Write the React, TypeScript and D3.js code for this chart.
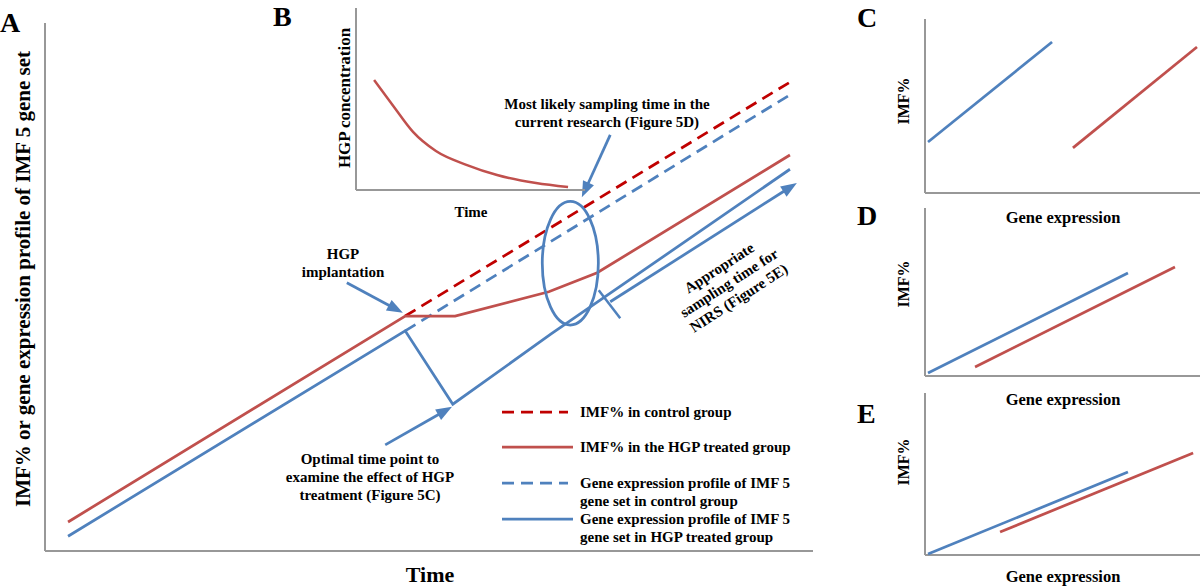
import * as d3 from 'd3';
import React from 'react';

// panel A: time (0-100) vs IMF% / gene expression (0-100)
const redTreatedT = [3.0, 46.9, 53.4, 65.6, 71.9, 97.0];
const redTreatedV = [5.5, 44.5, 44.5, 49.1, 52.7, 75.0];
const redControlT = [46.9, 97.0];
const redControlV = [44.5, 88.8];
const blueTreatedT = [3.0, 46.9, 53.1, 65.9, 97.0];
const blueTreatedV = [2.8, 41.7, 27.8, 41.1, 72.3];
const blueControlT = [46.9, 97.0];
const blueControlV = [41.7, 86.4];

// panel B: HGP concentration decay
const hgpTime = [0.79, 1.66, 2.49, 3.49, 4.85, 6.16, 7.86, 9.26];
const hgpConc = [6.04, 4.56, 3.19, 2.14, 1.37, 0.82, 0.38, 0.16];

// panels C, D, E: gene expression vs IMF% (start, end of each line)
const cBlue = [[0.11, 2.93], [4.62, 8.68]];
const cRed = [[5.38, 2.59], [9.89, 8.39]];
const dBlue = [[0.11, 0.18], [7.38, 6.13]];
const dRed = [[1.82, 0.54], [9.09, 6.49]];
const eBlue = [[0.11, 0.06], [7.38, 5.12]];
const eRed = [[2.73, 1.42], [9.75, 6.30]];

const legendLabels = [
  ['IMF% in control group'],
  ['IMF% in the HGP treated group'],
  ['Gene expression profile of IMF 5', 'gene set in control group'],
  ['Gene expression profile of IMF 5', 'gene set in HGP treated group'],
];

const RED = '#c0504d';
const RED_DARK = '#c00000';
const BLUE = '#4f81bd';
const GREY = '#989898';
const FONT = '"Liberation Serif", "Times New Roman", serif';

const zip = (a: number[], b: number[]) => a.map((v, i) => [v, b[i]] as [number, number]);

const Arrow = ({ x1, y1, x2, y2 }: { x1: number; y1: number; x2: number; y2: number }) => {
  const ang = Math.atan2(y2 - y1, x2 - x1);
  const len = 16, half = 6;
  const bx = x2 - len * Math.cos(ang), by = y2 - len * Math.sin(ang);
  const p1 = [bx + half * Math.sin(ang), by - half * Math.cos(ang)];
  const p2 = [bx - half * Math.sin(ang), by + half * Math.cos(ang)];
  return (
    <g>
      <line x1={x1} y1={y1} x2={bx + 2 * Math.cos(ang)} y2={by + 2 * Math.sin(ang)} stroke={BLUE} strokeWidth={2.75} />
      <path d={`M${x2},${y2}L${p1[0]},${p1[1]}L${p2[0]},${p2[1]}Z`} fill={BLUE} />
    </g>
  );
};

const SmallPanel = ({ top, bottom, blue, red, letter, letterY, ylabelY, xlabelY }: any) => {
  const x = d3.scaleLinear().domain([0, 10]).range([925, 1200]);
  const y = d3.scaleLinear().domain([0, 10]).range([bottom, top]);
  const line = d3.line<number[]>().x(d => x(d[0])).y(d => y(d[1]));
  return (
    <g>
      <text x={857} y={letterY} fontSize={28} fontWeight="bold">{letter}</text>
      <line x1={925} y1={top} x2={925} y2={bottom} stroke={GREY} strokeWidth={2} />
      <line x1={925} y1={bottom} x2={1200} y2={bottom} stroke={GREY} strokeWidth={2} />
      <path d={line(blue) ?? ''} stroke={BLUE} strokeWidth={2.75} fill="none" />
      <path d={line(red) ?? ''} stroke={RED} strokeWidth={2.75} fill="none" />
      <text transform={`translate(909,${ylabelY}) rotate(-90)`} textAnchor="middle" fontSize={16} fontWeight="bold">IMF%</text>
      <text x={1063} y={xlabelY} textAnchor="middle" fontSize={16.5} fontWeight="bold">Gene expression</text>
    </g>
  );
};

export default function App() {
  const width = 1200, height = 587;

  // panel A scales
  const x = d3.scaleLinear().domain([0, 100]).range([45, 813]);
  const y = d3.scaleLinear().domain([0, 100]).range([551, 23]);
  const lineA = d3.line<[number, number]>().x(d => x(d[0])).y(d => y(d[1]));

  // panel B scales
  const bx = d3.scaleLinear().domain([0, 10]).range([356, 585]);
  const by = d3.scaleLinear().domain([0, 10]).range([190, 8]);
  const lineB = d3.line<[number, number]>().x(d => bx(d[0])).y(d => by(d[1])).curve(d3.curveMonotoneX);

  const series = [
    { pts: zip(redControlT, redControlV), color: RED_DARK, dash: '12 7' },
    { pts: zip(blueControlT, blueControlV), color: BLUE, dash: '12 7' },
    { pts: zip(redTreatedT, redTreatedV), color: RED, dash: undefined },
    { pts: zip(blueTreatedT, blueTreatedV), color: BLUE, dash: undefined },
  ];
  const legendStyle = [series[0], series[2], series[1], series[3]];
  const legendY = [412, 447, 483, 519];

  return (
    <svg width={width} height={height} style={{ position: 'absolute', left: 0, top: 0, background: '#fff' }} fontFamily={FONT}>
      {/* panel A */}
      <text x={0} y={32} fontSize={28} fontWeight="bold">A</text>
      <line x1={x(0)} y1={y(100)} x2={x(0)} y2={y(0)} stroke={GREY} strokeWidth={2} />
      <line x1={x(0)} y1={y(0)} x2={x(100)} y2={y(0)} stroke={GREY} strokeWidth={2} />
      <text transform="translate(30,279) rotate(-90)" textAnchor="middle" fontSize={21} fontWeight="bold">
        IMF% or gene expression profile of IMF 5 gene set
      </text>
      <text x={430} y={582} textAnchor="middle" fontSize={22} fontWeight="bold">Time</text>

      {series.map((s, i) => (
        <path key={i} d={lineA(s.pts) ?? ''} stroke={s.color} strokeWidth={2.75} fill="none" strokeDasharray={s.dash} />
      ))}

      {/* annotations */}
      <text x={343} y={259} textAnchor="middle" fontSize={15} fontWeight="bold">HGP</text>
      <text x={343} y={277} textAnchor="middle" fontSize={15} fontWeight="bold">implantation</text>
      <Arrow x1={x(39.3)} y1={y(50.8)} x2={x(46.6)} y2={y(45.1)} />

      <text x={370} y={464} textAnchor="middle" fontSize={15} fontWeight="bold">Optimal time point to</text>
      <text x={370} y={482} textAnchor="middle" fontSize={15} fontWeight="bold">examine  the effect of HGP</text>
      <text x={370} y={500} textAnchor="middle" fontSize={15} fontWeight="bold">treatment (Figure 5C)</text>
      <Arrow x1={x(44.3)} y1={y(20.1)} x2={x(53.0)} y2={y(27.3)} />

      <text x={607} y={109} textAnchor="middle" fontSize={15} fontWeight="bold">Most likely sampling time in the</text>
      <text x={607} y={127} textAnchor="middle" fontSize={15} fontWeight="bold">current research (Figure 5D)</text>
      <Arrow x1={x(73.6)} y1={y(78.8)} x2={x(69.9)} y2={y(67.0)} />
      <ellipse cx={x(68.4)} cy={y(54.5)} rx={x(3.65) - x(0)} ry={y(0) - y(11.7)} fill="none" stroke={BLUE} strokeWidth={2.75} />

      <Arrow x1={x(73.6)} y1={y(47.2)} x2={x(97.9)} y2={y(69.7)} />
      <line x1={x(72.1)} y1={y(49.4)} x2={x(74.9)} y2={y(44.1)} stroke={BLUE} strokeWidth={2.5} />
      <g transform="translate(729,283) rotate(-33)" fontSize={15} fontWeight="bold" textAnchor="middle">
        <text y={-13}>Appropriate</text>
        <text y={5}>sampling time for</text>
        <text y={23}>NIRS  (Figure 5E)</text>
      </g>

      {/* legend */}
      {legendStyle.map((s, i) => (
        <g key={i}>
          <line x1={502} y1={legendY[i]} x2={s.dash ? 568 : 573} y2={legendY[i]} stroke={s.color} strokeWidth={2.75} strokeDasharray={s.dash} />
          {legendLabels[i].map((t, j) => (
            <text key={j} x={580} y={legendY[i] + 5 + j * 18} fontSize={15} fontWeight="bold">{t}</text>
          ))}
        </g>
      ))}

      {/* panel B */}
      <text x={273} y={26} fontSize={28} fontWeight="bold">B</text>
      <line x1={bx(0)} y1={by(10)} x2={bx(0)} y2={by(0)} stroke={GREY} strokeWidth={2} />
      <line x1={bx(0)} y1={by(0)} x2={bx(10)} y2={by(0)} stroke={GREY} strokeWidth={2} />
      <path d={lineB(zip(hgpTime, hgpConc)) ?? ''} stroke={RED} strokeWidth={2.5} fill="none" />
      <text transform="translate(350,98) rotate(-90)" textAnchor="middle" fontSize={17} fontWeight="bold">HGP concentration</text>
      <text x={471} y={217} textAnchor="middle" fontSize={15} fontWeight="bold">Time</text>

      {/* panels C, D, E */}
      <SmallPanel letter="C" letterY={27} top={19} bottom={193} blue={cBlue} red={cRed} ylabelY={101} xlabelY={223} />
      <SmallPanel letter="D" letterY={225} top={208} bottom={376} blue={dBlue} red={dRed} ylabelY={284} xlabelY={405} />
      <SmallPanel letter="E" letterY={423} top={393} bottom={555} blue={eBlue} red={eRed} ylabelY={462} xlabelY={582} />
    </svg>
  );
}
